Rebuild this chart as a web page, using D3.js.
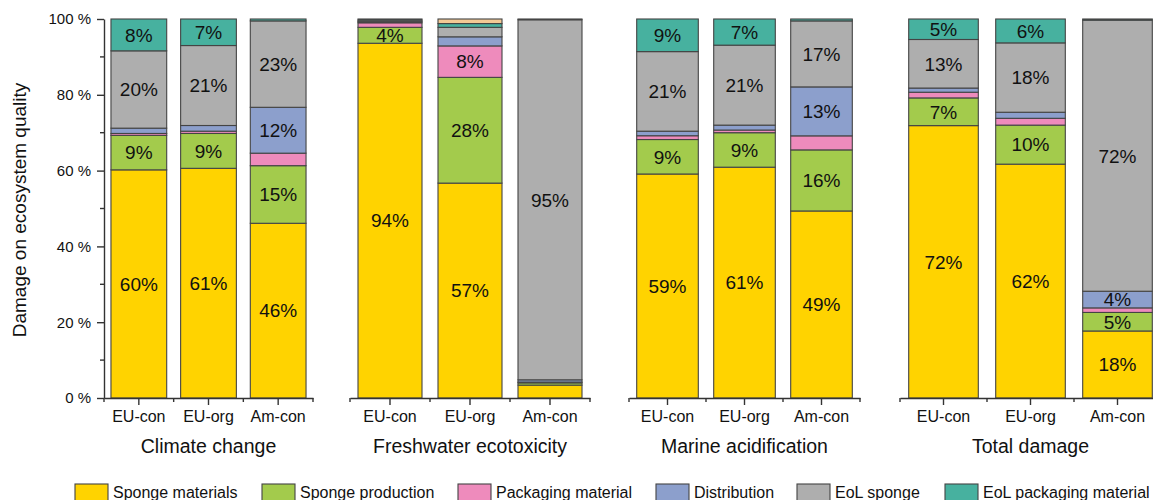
<!DOCTYPE html>
<html><head><meta charset="utf-8">
<script src="https://cdn.jsdelivr.net/npm/d3@7"></script>
<style>body{margin:0;background:#fff}svg{display:block;font-family:"Liberation Sans",Arial,sans-serif}</style>
</head><body><svg id="c" width="1153" height="500"></svg>
<script>
// ---- data ----
const groups = ["Climate change","Freshwater ecotoxicity","Marine acidification","Total damage"];
const scenarios = ["EU-con","EU-org","Am-con"];
const stages = ["Sponge materials","Sponge production","Packaging material","Distribution","EoL sponge","EoL packaging material","Other"];
const legendStages = ["Sponge materials","Sponge production","Packaging material","Distribution","EoL sponge","EoL packaging material"];
// values in %, order: group x scenario
const spongeMaterials  = [60.2,60.6,46.1, 93.6,56.7,3.4, 59.1,60.9,49.3, 71.8,61.7,17.7];
const spongeProduction = [9.1,9.2,15.2,   4.2,27.9,0.6,  9.1,9.1,16.1,   7.3,10.3,4.9];
const packagingMat     = [0.5,0.6,3.3,    1.2,8.3,0.2,   1.0,0.7,3.7,    1.5,1.8,1.2];
const distribution     = [1.4,1.5,12.1,   0.3,2.4,0.6,   1.2,1.3,12.9,   1.1,1.6,4.4];
const eolSponge        = [20.4,21.1,22.8, 0.4,2.5,95.0,  21.0,21.1,17.4, 12.8,18.3,71.6];
const eolPackaging     = [8.4,7.0,0.5,    0.3,1.0,0.2,   8.6,6.9,0.5,    5.4,6.3,0.3];
const otherStage       = [0,0,0,          0,1.2,0,       0,0,0,          0,0,0];
const yTicks = [0,20,40,60,80,100];
const yMinor = [10,30,50,70,90];

// ---- styles/layout ----
const colors = ["#FFD300","#A3CB4C","#EE8BBC","#8C9FCC","#AEAEAE","#47B19F","#F3C995"];
const groupRanges = [[104,313],[350,590],[629,860],[900,1161]];
const svg = d3.select("#c");
const y = d3.scaleLinear().domain([0,100]).range([398,19]);
const color = d3.scaleOrdinal().domain(stages).range(colors);

const series = [spongeMaterials,spongeProduction,packagingMat,distribution,eolSponge,eolPackaging,otherStage];
const rows = [];
groups.forEach((g,gi)=>scenarios.forEach((s,si)=>{
  const i = gi*3+si;
  const r = {group:g, scen:s};
  const tot = d3.sum(series, a=>a[i]);
  stages.forEach((st,k)=>{ r[st] = series[k][i]*100/tot; r[st+"_raw"] = series[k][i]; });
  rows.push(r);
}));
const stack = d3.stack().keys(stages);

const axisColor = "#333";
groups.forEach((g,gi)=>{
  const x = d3.scaleBand().domain(scenarios).range(groupRanges[gi]).paddingInner(0.2).paddingOuter(0.1);
  const data = rows.filter(r=>r.group===g);
  const st = stack(data);
  const gg = svg.append("g");
  st.forEach(layer=>{
    layer.forEach(d=>{
      const h = y(d[0]) - y(d[1]);
      if (h <= 0) return;
      gg.append("rect")
        .attr("x", x(d.data.scen)).attr("width", x.bandwidth())
        .attr("y", y(d[1])).attr("height", h)
        .attr("fill", color(layer.key))
        .attr("stroke", "#444").attr("stroke-width", 1.1);
    });
  });
  st.forEach(layer=>{
    layer.forEach(d=>{
      const raw = d.data[layer.key+"_raw"];
      if (raw < 4) return;
      gg.append("text")
        .attr("x", x(d.data.scen)+x.bandwidth()/2)
        .attr("y", (y(d[0])+y(d[1]))/2)
        .attr("dy","0.36em")
        .attr("text-anchor","middle")
        .attr("font-size",19).attr("fill","#111")
        .text(Math.round(raw)+"%");
    });
  });
  // x axis
  const ax = svg.append("g").attr("transform","translate(0,398)")
    .call(d3.axisBottom(x).tickSize(7).tickSizeOuter(0).tickPadding(6));
  ax.select(".domain").attr("stroke",axisColor).attr("stroke-width",1.4);
  ax.selectAll(".tick line").attr("stroke",axisColor).attr("stroke-width",1.4);
  ax.selectAll(".tick text").attr("font-size",16).attr("fill","#111").attr("font-family","Liberation Sans, Arial, sans-serif");
  const step = x.step();
  const bounds = scenarios.map(s=>x(s)-step*0.1).concat([x(scenarios[2])+x.bandwidth()+step*0.1]);
  bounds.forEach(b=>{
    svg.append("line").attr("x1",b).attr("x2",b).attr("y1",398).attr("y2",402)
      .attr("stroke",axisColor).attr("stroke-width",1.4);
  });
  const r = groupRanges[gi];
  svg.append("text").attr("x",(r[0]+r[1])/2).attr("y",453)
    .attr("text-anchor","middle").attr("font-size",19.5).attr("fill","#111").text(g);
});

// y axis
const yax = svg.append("g").attr("transform","translate(104,0)")
  .call(d3.axisLeft(y).tickValues(yTicks).tickSize(7).tickSizeOuter(0).tickPadding(6).tickFormat(d=>d+" %"));
yax.select(".domain").attr("stroke",axisColor).attr("stroke-width",1.4);
yax.selectAll(".tick line").attr("stroke",axisColor).attr("stroke-width",1.4);
yax.selectAll(".tick text").attr("font-size",15).attr("fill","#111").attr("font-family","Liberation Sans, Arial, sans-serif");
yMinor.forEach(v=>{
  svg.append("line").attr("x1",100).attr("x2",104).attr("y1",y(v)).attr("y2",y(v))
    .attr("stroke",axisColor).attr("stroke-width",1.4);
});
svg.append("text").attr("transform","translate(26,210) rotate(-90)")
  .attr("text-anchor","middle").attr("font-size",19).attr("fill","#111")
  .text("Damage on ecosystem quality");

// legend
const legendX = [75,262,458,656,797,945];
legendStages.forEach((s,i)=>{
  svg.append("rect").attr("x",legendX[i]).attr("y",484).attr("width",33).attr("height",18)
    .attr("fill",color(s)).attr("stroke","#444").attr("stroke-width",1.1);
  svg.append("text").attr("x",legendX[i]+38).attr("y",498).attr("font-size",16).attr("fill","#111").text(s);
});
</script></body></html>
